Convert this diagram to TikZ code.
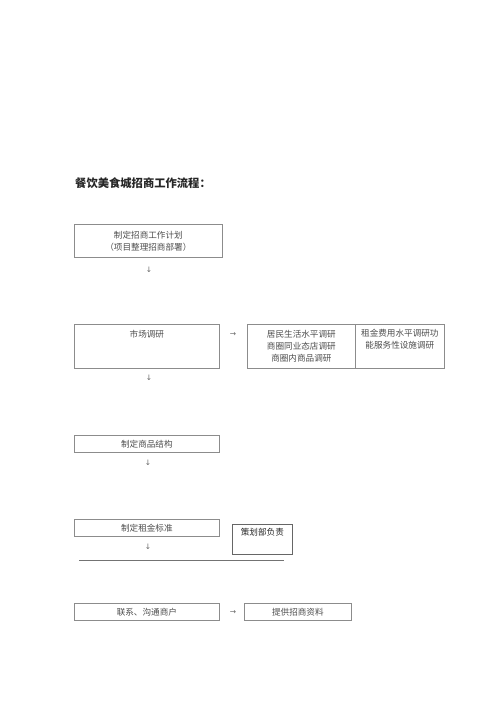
\documentclass[tikz,border=0pt]{standalone}
\usepackage{fontspec}
\setmainfont{Noto Sans CJK SC}
\newfontfamily\symfont{DejaVu Sans}
\begin{document}
\begin{tikzpicture}[x=1pt,y=-1pt,
  box/.style={draw=black!45, line width=0.7pt, rectangle, inner sep=0pt, anchor=north west},
  txt/.style={text=black!70, font=\fontsize{8.6}{12}\selectfont, align=center, inner sep=0pt},
  arr/.style={text=black!60, font=\symfont\fontsize{7.5}{7.5}\selectfont, inner sep=0pt}]
\useasboundingbox (0,0) rectangle (500,708);
% title
\node[anchor=west, text=black!85, font=\fontsize{11.3}{13}\selectfont\bfseries, inner sep=0pt] (title) at (75,183) {餐饮美食城招商工作流程：};
% box 1
\node[box, minimum width=148pt, minimum height=33pt] (b1) at (74,224) {};
\node[txt] (t1) at (b1.center) {制定招商工作计划\\（项目整理招商部署）};
\node[arr] (a1) at (149,270) {↓};
% box 2
\node[box, minimum width=145pt, minimum height=44pt] (b2) at (74,324) {};
\node[txt] (t2) at ([yshift=-10pt]b2.north) {市场调研};
\node[arr] (a2) at (233,335) {→};
\node[box, minimum width=108pt, minimum height=44pt] (b3) at (247,324) {};
\node[txt] (t3) at (b3.center) {居民生活水平调研\\商圈同业态店调研\\商圈内商品调研};
\node[box, minimum width=89pt, minimum height=44pt] (b4) at (355,324) {};
\node[txt, anchor=north] (t4) at ([yshift=-5pt]b4.north) {租金费用水平调研功\\能服务性设施调研};
\node[arr] (a3) at (149,378) {↓};
% box 5
\node[box, minimum width=145pt, minimum height=17pt] (b5) at (74,435) {};
\node[txt] (t5) at (b5.center) {制定商品结构};
\node[arr] (a4) at (148,463) {↓};
% box 6
\node[box, minimum width=145pt, minimum height=17pt] (b6) at (74,519) {};
\node[txt] (t6) at (b6.center) {制定租金标准};
\node[arr] (a5) at (148,547) {↓};
\node[box, draw=black!60, minimum width=60pt, minimum height=30pt] (b7) at (232,524) {};
\node[txt, text=black!85, anchor=north] (t7) at ([yshift=-4.5pt]b7.north) {策划部负责};
\coordinate (l1) at (79,560);
\coordinate (l2) at (284,560);
\draw[draw=black!55, line width=0.8pt] (l1) -- (l2);
% box 8
\node[box, minimum width=145pt, minimum height=17pt] (b8) at (74,603) {};
\node[txt] (t8) at (b8.center) {联系、沟通商户};
\node[arr] (a6) at (233,613) {→};
\node[box, minimum width=107pt, minimum height=17pt] (b9) at (244,603) {};
\node[txt] (t9) at (b9.center) {提供招商资料};
\end{tikzpicture}
\end{document}
